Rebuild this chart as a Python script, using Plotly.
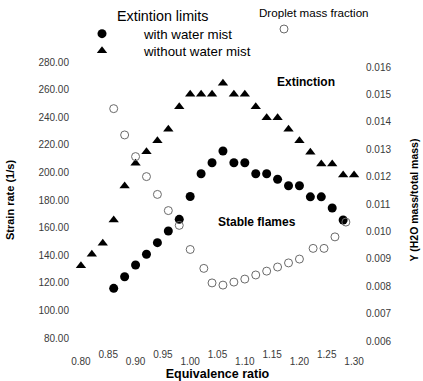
import plotly.graph_objects as go

# Extinction strain rate vs equivalence ratio, with water mist (filled circles)
phi_mist = [0.86, 0.88, 0.90, 0.92, 0.94, 0.96, 0.98, 1.00, 1.02, 1.04, 1.06,
            1.08, 1.10, 1.12, 1.14, 1.16, 1.18, 1.20, 1.22, 1.24, 1.26, 1.28]
strain_mist = [116, 124.4, 132.9, 140.7, 149.1, 157.5, 166, 182.5, 199, 207, 215.5,
               207, 207, 199, 199, 195, 190.3, 190.3, 182.3, 182.3, 174.2, 165.5]

# Extinction strain rate without water mist (filled triangles)
phi_dry = [0.80, 0.82, 0.84, 0.86, 0.88, 0.90, 0.92, 0.94, 0.96, 0.98, 1.00, 1.02, 1.04,
           1.06, 1.08, 1.10, 1.12, 1.14, 1.16, 1.18, 1.20, 1.22, 1.24, 1.26, 1.28, 1.30]
strain_dry = [132.4, 140.7, 148.6, 165.5, 190.1, 206.6, 215, 223, 231.2, 247.6, 256.6, 256.6, 256.6,
              264.6, 256.6, 256.6, 247.6, 239.6, 239.6, 231.2, 223, 214.6, 206.1, 206.1, 198.1, 198.1]

# Droplet mass fraction at extinction (open circles, right axis)
phi_drop = [0.86, 0.88, 0.90, 0.92, 0.94, 0.96, 0.98, 1.00, 1.025, 1.04, 1.06,
            1.08, 1.10, 1.12, 1.14, 1.16, 1.18, 1.20, 1.225, 1.245, 1.265, 1.285]
y_drop = [0.01448, 0.01352, 0.01273, 0.01200, 0.01135, 0.01076, 0.01022, 0.00934, 0.00865, 0.00812, 0.00804,
          0.00815, 0.00826, 0.00841, 0.00855, 0.00870, 0.00885, 0.00899, 0.00938, 0.00938, 0.00980, 0.01034]

# Axis ticks
x_ticks_low = [0.80, 0.90, 1.00, 1.10, 1.20, 1.30]
x_ticks_high = [0.85, 0.95, 1.05, 1.15, 1.25]
strain_ticks = [80, 100, 120, 140, 160, 180, 200, 220, 240, 260, 280]
frac_ticks = [0.006, 0.007, 0.008, 0.009, 0.010, 0.011, 0.012, 0.013, 0.014, 0.015, 0.016]

FONT = "Liberation Sans, Arial, sans-serif"
TICK_COLOR = "#3a3a3a"

# plot area in pixels: x 70..365, y 55..345
def px_x(px):
    return (px - 70) / 295

def px_y(py):
    return (345 - py) / 290

fig = go.Figure()

fig.add_trace(go.Scatter(
    x=phi_mist, y=strain_mist, mode="markers", name="with water mist",
    marker=dict(symbol="circle", size=9, color="black"),
    legend="legend",
))
fig.add_trace(go.Scatter(
    x=phi_dry, y=strain_dry, mode="markers", name="without water mist",
    marker=dict(symbol="triangle-up", size=9, color="black"),
    legend="legend3",
))
fig.add_trace(go.Scatter(
    x=phi_drop, y=y_drop, mode="markers", name=" ",
    xaxis="x2", yaxis="y2",
    marker=dict(symbol="circle-open", size=8, color="#6a6a6a", line=dict(width=1)),
    legend="legend2",
))

ITEM_W = 74
legend_common = dict(xanchor="left", yanchor="middle", itemwidth=ITEM_W,
                     bgcolor="rgba(0,0,0,0)", borderwidth=0)
axis_common = dict(showgrid=False, zeroline=False, showline=False, ticks="", automargin=False)

fig.update_layout(
    width=423, height=381,
    margin=dict(l=70, r=58, t=55, b=36, autoexpand=False),
    paper_bgcolor="white", plot_bgcolor="white",
    font=dict(family=FONT, color="black"),
    showlegend=True,
    xaxis=dict(
        range=[0.78, 1.32], **axis_common,
        tickvals=x_ticks_low, ticktext=[f"{v:.2f}" for v in x_ticks_low],
        tickfont=dict(size=10, color=TICK_COLOR), ticklabelstandoff=9,
        title=dict(text="<b>Equivalence ratio</b>", font=dict(size=12.5), standoff=3),
    ),
    xaxis2=dict(
        matches="x", overlaying="x", anchor="y", side="bottom", **axis_common,
        tickvals=x_ticks_high, ticktext=[f"{v:.2f}" for v in x_ticks_high],
        tickfont=dict(size=10, color=TICK_COLOR), ticklabelstandoff=2,
    ),
    yaxis=dict(
        range=[74.93, 285.07], **axis_common,
        tickvals=strain_ticks, ticktext=[f"{v:.2f}" for v in strain_ticks],
        tickfont=dict(size=10, color=TICK_COLOR),
        title=dict(text="<b>Strain rate (1/s)</b>", font=dict(size=11), standoff=21),
    ),
    yaxis2=dict(
        range=[0.005854, 0.016438], overlaying="y", side="right", anchor="x2", **axis_common,
        tickvals=frac_ticks, ticktext=[f"{v:.3f}" for v in frac_ticks],
        tickfont=dict(size=10, color=TICK_COLOR),
        title=dict(text="<b>Y (H2O mass/total mass)</b>", font=dict(size=10.5), standoff=20),
    ),
    legend=dict(x=px_x(60), y=px_y(34), font=dict(size=13.3), **legend_common),
    legend3=dict(x=px_x(60), y=px_y(51), font=dict(size=13.3), **legend_common),
    legend2=dict(x=px_x(242), y=px_y(29), font=dict(size=12), **legend_common),
    annotations=[
        dict(text="Extintion limits", xref="paper", yref="paper",
             x=px_x(115), y=px_y(16), xanchor="left", yanchor="middle",
             showarrow=False, font=dict(size=14.3)),
        dict(text="Droplet mass fraction", xref="paper", yref="paper",
             x=px_x(257), y=px_y(13), xanchor="left", yanchor="middle",
             showarrow=False, font=dict(size=11.6)),
        dict(text="<b>Extinction</b>", xref="paper", yref="paper",
             x=px_x(306), y=px_y(82), xanchor="center", yanchor="middle",
             showarrow=False, font=dict(size=12)),
        dict(text="<b>Stable flames</b>", xref="paper", yref="paper",
             x=px_x(257), y=px_y(222), xanchor="center", yanchor="middle",
             showarrow=False, font=dict(size=12)),
    ],
)

fig.write_html("out.html")
